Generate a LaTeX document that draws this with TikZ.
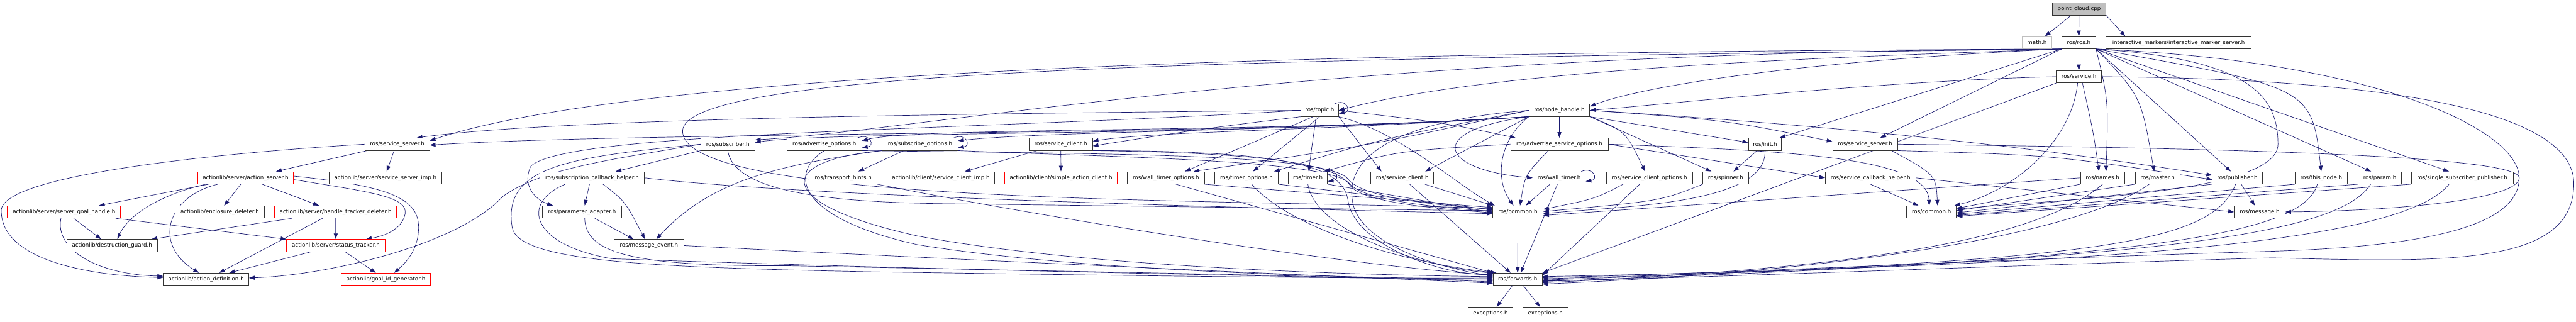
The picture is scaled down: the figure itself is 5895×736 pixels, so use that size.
\documentclass[tikz,border=0pt]{standalone}
\usepackage{fontspec}
\newfontfamily\dvs{DejaVu Sans}
\usetikzlibrary{arrows.meta,calc,backgrounds}
\definecolor{mnb}{RGB}{25,25,112}
\begin{document}
\begin{tikzpicture}[x=1pt,y=-1pt,
  box/.style={draw=black!80,line width=1.3pt,fill=white,minimum height=28pt,inner sep=0pt,font=\dvs\fontsize{12.5}{15}\selectfont},
  rbox/.style={box,draw=red},
  gbox/.style={box,draw=black!25},
  pbox/.style={box,fill=black!25},
  edge/.style={draw=mnb,line width=1pt,-{Triangle[length=13pt,width=9pt]}}]
\useasboundingbox (0,0) rectangle (5895,736);
\begin{scope}[on background layer]
\fill[white] (0,0) rectangle (5895,736);
\end{scope}
% rows 0-3
\node[pbox,minimum width=122pt] (pc) at (4758,20.5) {point\_cloud.cpp};
\node[gbox,minimum width=67pt] (math) at (4661.5,97.5) {math.h};
\node[box,minimum width=78pt] (ros) at (4757,97.5) {ros/ros.h};
\node[box,minimum width=333pt] (ims) at (4985.5,97.5) {interactive\_markers/interactive\_marker\_server.h};
\node[box,minimum width=103pt] (srv) at (4757.5,175.5) {ros/service.h};
\node[box,minimum width=86pt] (topic) at (3020,252.5) {ros/topic.h};
\node[box,minimum width=139pt] (nh) at (3568.5,252.5) {ros/node\_handle.h};
% row 4
\node[box,minimum width=148pt] (ssL) at (909,330) {ros/service\_server.h};
\node[box,minimum width=123pt] (sub) at (1665.5,330) {ros/subscriber.h};
\node[box,minimum width=171pt] (advo) at (1886.5,330) {ros/advertise\_options.h};
\node[box,minimum width=173pt] (subo) at (2105.5,330) {ros/subscribe\_options.h};
\node[box,minimum width=145pt] (scL) at (2427.5,330) {ros/service\_client.h};
\node[box,minimum width=223pt] (adso) at (3568.5,330) {ros/advertise\_service\_options.h};
\node[box,minimum width=76pt] (init) at (4039,330) {ros/init.h};
\node[box,minimum width=148pt] (ssR) at (4268,330) {ros/service\_server.h};
% row 5
\node[rbox,minimum width=220pt] (asv) at (562,407) {actionlib/server/action\_server.h};
\node[box,minimum width=258pt] (ssimp) at (882,407) {actionlib/server/service\_server\_imp.h};
\node[box,minimum width=240pt] (sch) at (1355,407) {ros/subscription\_callback\_helper.h};
\node[box,minimum width=155pt] (th) at (1929.5,407) {ros/transport\_hints.h};
\node[box,minimum width=246pt] (scimp) at (2153,407) {actionlib/client/service\_client\_imp.h};
\node[rbox,minimum width=258pt] (sac) at (2428,407) {actionlib/client/simple\_action\_client.h};
\node[box,minimum width=176pt] (wto) at (2668,407) {ros/wall\_timer\_options.h};
\node[box,minimum width=145pt] (tmo) at (2852.5,407) {ros/timer\_options.h};
\node[box,minimum width=90pt] (timer) at (2993,407) {ros/timer.h};
\node[box,minimum width=144pt] (scR) at (3209,407) {ros/service\_client.h};
\node[box,minimum width=120pt] (wt) at (3568,407) {ros/wall\_timer.h};
\node[box,minimum width=197pt] (sco) at (3774.5,407) {ros/service\_client\_options.h};
\node[box,minimum width=104pt] (spin) at (3949,407) {ros/spinner.h};
\node[box,minimum width=207pt] (sch2) at (4280.5,407) {ros/service\_callback\_helper.h};
\node[box,minimum width=101pt] (names) at (4811.5,407) {ros/names.h};
\node[box,minimum width=103pt] (master) at (4937.5,407) {ros/master.h};
\node[box,minimum width=114pt] (pub) at (5120,407) {ros/publisher.h};
\node[box,minimum width=120pt] (thisn) at (5312,407) {ros/this\_node.h};
\node[box,minimum width=100pt] (param) at (5446,407) {ros/param.h};
\node[box,minimum width=233pt] (ssp) at (5634.5,407) {ros/single\_subscriber\_publisher.h};
% row 6
\node[rbox,minimum width=259pt] (sgh) at (146.5,485) {actionlib/server/server\_goal\_handle.h};
\node[box,minimum width=204pt] (encl) at (503,485) {actionlib/enclosure\_deleter.h};
\node[rbox,minimum width=280pt] (htd) at (768,485) {actionlib/server/handle\_tracker\_deleter.h};
\node[box,minimum width=182pt] (pa) at (1332,485) {ros/parameter\_adapter.h};
\node[box,minimum width=115pt] (cmnL) at (3473.5,485) {ros/common.h};
\node[box,minimum width=114pt] (cmnR) at (4420,485) {ros/common.h};
\node[box,minimum width=116pt] (msg) at (5171,485) {ros/message.h};
% row 7
\node[box,minimum width=207pt] (dg) at (256.5,562) {actionlib/destruction\_guard.h};
\node[rbox,minimum width=225pt] (st) at (768.5,562) {actionlib/server/status\_tracker.h};
\node[box,minimum width=160pt] (me) at (1485,562) {ros/message\_event.h};
% row 8
\node[box,minimum width=195pt] (ad) at (471.5,639) {actionlib/action\_definition.h};
\node[rbox,minimum width=204pt] (gig) at (883,639) {actionlib/goal\_id\_generator.h};
\node[box,minimum width=112pt] (fwd) at (3473,639) {ros/forwards.h};
% row 9
\node[box,minimum width=102pt] (exc1) at (3411,717) {exceptions.h};
\node[box,minimum width=103pt] (exc2) at (3536.5,717) {exceptions.h};

\begin{scope}[on background layer]
% top
\draw[edge] (pc) -- (math);
\draw[edge] (pc) -- (ros);
\draw[edge] (pc.south east) -- ($(ims.north west)+(45,0)$);
\draw[edge] (ros) -- (srv);
% ros
\draw[edge] (ros.south west) .. controls (4300,128) and (3450,150) .. (topic.east);
\draw[edge] (ros.south west) .. controls (4100,140) and (3750,200) .. ($(nh.east)+(0,-9)$);
\draw[edge] (ros.south west) .. controls (3000,118) and (2100,300) .. ($(sub.east)+(0,-10)$);
\draw[edge] (ros.south west) .. controls (3200,118) and (1500,150) .. ($(ssL.east)+(0,-8)$);
\draw[edge] (ros.south west) -- ($(init.north east)+(-5,0)$);
\draw[edge] (ros.south west) -- ($(ssR.north)+(35,0)$);
\draw[edge] (ros.south east) .. controls (4825,230) .. ($(names.north)+(8,0)$);
\draw[edge] (ros.south east) .. controls (4900,220) .. ($(master.north)+(-8,0)$);
\draw[edge] (ros.south east) -- ($(pub.north)+(-15,0)$);
\draw[edge] (ros.south east) .. controls (5290,200) .. (thisn.north);
\draw[edge] (ros.south east) -- ($(param.north)+(-20,0)$);
\draw[edge] (ros.south east) -- ($(ssp.north)+(-30,0)$);
\draw[edge] (ros.south east) .. controls (5150,135) and (5213,220) .. (5213,330) .. controls (5213,445) and (4700,455) .. ($(cmnR.east)+(0,-6)$);
\draw[edge] (ros.south east) .. controls (5450,140) and (5765,300) .. (5765,407) .. controls (5765,530) and (5500,565) .. (5200,575) .. controls (4600,592) and (3900,628) .. ($(fwd.east)+(0,-4)$);
\draw[edge] (ros.south west) .. controls (3000,135) and (1562,150) .. (1562,300) .. controls (1562,470) and (2800,455) .. ($(cmnL.west)+(0,-8)$);
% srv
\draw[edge] (srv.west) .. controls (4300,185) and (3800,240) .. (nh.east);
\draw[edge] (srv.south west) -- (fwd.north east);
\draw[edge] ($(srv.south)+(-3,0)$) .. controls (4740,330) and (4600,440) .. ($(cmnR.north east)+(-5,0)$);
\draw[edge] ($(srv.south)+(8,0)$) .. controls (4790,300) .. ($(names.north)+(-8,0)$);
\draw[edge] (srv.east) .. controls (5400,180) and (5890,240) .. (5890,420) .. controls (5890,610) and (5600,600) .. (5200,590) .. controls (4600,607) and (3900,636) .. ($(fwd.east)+(0,4)$);
% nh
\draw[edge] (nh) -- (adso);
\draw[edge] (nh.south east) -- ($(init.west)+(0,-4)$);
\draw[edge] (nh.east) .. controls (3950,275) .. ($(ssR.west)+(0,-6)$);
\draw[edge] (nh.south east) .. controls (3720,300) .. ($(sco.north)+(-10,0)$);
\draw[edge] (nh.south east) -- ($(spin.north west)+(20,0)$);
\draw[edge] (nh.south west) .. controls (3250,300) and (3300,390) .. (wt.west);
\draw[edge] (nh.south west) -- ($(scR.north east)+(-20,0)$);
\draw[edge] (nh.west) .. controls (3150,330) .. ($(wto.north east)+(-25,0)$);
\draw[edge] (nh.west) .. controls (3150,320) .. ($(tmo.north east)+(-10,0)$);
\draw[edge] (nh.south west) .. controls (3430,320) and (3420,410) .. ($(cmnL.north)+(-10,0)$);
\draw[edge] (nh.west) .. controls (3150,280) and (3080,380) .. (3095,460) .. controls (3110,560) and (3300,615) .. ($(fwd.west)+(0,-8)$);
\draw[edge] (nh.south west) .. controls (3000,300) and (2650,300) .. ($(scL.east)+(0,-7)$);
\draw[edge] (nh.south west) .. controls (2900,302) and (2400,300) .. ($(subo.east)+(0,-8)$);
\draw[edge] (nh.south west) .. controls (2900,305) and (2100,290) .. ($(advo.east)+(0,-8)$);
\draw[edge] (nh.south west) .. controls (2800,312) and (1900,300) .. ($(sub.east)+(0,-4)$);
\draw[edge] (nh.south west) .. controls (2800,312) and (1500,300) .. ($(ssL.east)+(0,2)$);
\draw[edge] (nh.east) .. controls (4400,300) and (4800,360) .. ($(pub.west)+(0,-6)$);
% topic
\draw[edge] ($(topic.north east)+(-10,0)$) .. controls +(28,-14) and +(30,-4) .. ($(topic.east)+(0,7)$);
\draw[edge] (topic.west) .. controls (2300,260) and (1300,268) .. ($(ssL.north east)+(-30,0)$);
\draw[edge] (topic.south west) .. controls (2750,295) .. ($(scL.east)+(0,4)$);
\draw[edge] (topic.south) -- ($(tmo.north)+(15,0)$);
\draw[edge] ($(topic.south)+(-15,0)$) -- ($(wto.north east)+(-45,0)$);
\draw[edge] ($(topic.south)+(-8,0)$) .. controls (3000,350) .. ($(timer.north)+(2,0)$);
\draw[edge] (topic.south east) -- ($(scR.north west)+(25,0)$);
\draw[edge] (topic.south east) .. controls (3200,300) and (3330,420) .. ($(cmnL.north west)+(5,0)$);
\draw[edge] (topic.east) .. controls (3300,280) .. ($(adso.north west)+(12,0)$);
\draw[edge] (topic.west) .. controls (2200,300) and (1300,300) .. (1215,380) .. controls (1195,420) and (1220,455) .. ($(pa.north west)+(25,0)$);
% ssL
\draw[edge] ($(ssL.south west)+(6,0)$) -- ($(asv.north east)+(-41,0)$);
\draw[edge] ($(ssL.south)+(-7,0)$) -- ($(ssimp.north)+(3,0)$);
\draw[edge] (ssL.west) .. controls (500,350) and (10,400) .. (3,480) .. controls (0,600) and (220,632) .. ($(ad.west)+(0,-4)$);
% action server
\draw[edge] ($(asv.south west)+(26,0)$) -- ($(sgh.north east)+(-50,0)$);
\draw[edge] ($(asv.south west)+(19,0)$) .. controls (350,450) and (290,500) .. ($(dg.north)+(12,0)$);
\draw[edge] ($(asv.south west)+(47,0)$) .. controls (380,450) and (350,560) .. ($(ad.north)+(-16,0)$);
\draw[edge] ($(asv.south)+(-11,0)$) -- ($(encl.north)+(10,0)$);
\draw[edge] ($(asv.south)+(38,0)$) -- ($(htd.north)+(-38,0)$);
\draw[edge] ($(asv.east)+(0,4)$) .. controls (850,440) and (935,450) .. (927,490) .. controls (920,525) and (880,540) .. ($(st.north east)+(-44,0)$);
\draw[edge] ($(asv.east)+(0,-4)$) .. controls (880,425) and (958,450) .. (958,520) .. controls (958,570) and (930,600) .. ($(gig.north)+(19,0)$);
% sgh
\draw[edge] ($(sgh.south)+(22,0)$) -- ($(dg.north)+(-25,0)$);
\draw[edge] ($(sgh.south)+(-7,0)$) .. controls (125,570) and (220,628) .. ($(ad.west)+(0,-7)$);
\draw[edge] ($(sgh.south east)+(-12,0)$) -- (st.north west);
% htd
\draw[edge] (htd) -- (st);
\draw[edge] ($(htd.south west)+(41,0)$) -- ($(dg.north east)+(-14,0)$);
\draw[edge] ($(htd.south)+(-30,0)$) -- ($(ad.north)+(30,0)$);
% st
\draw[edge] ($(st.south west)+(55,0)$) -- ($(ad.north east)+(-45,0)$);
\draw[edge] ($(st.south)+(22,0)$) -- ($(gig.north)+(-23,0)$);
% sub
\draw[edge] (sub.south west) -- ($(sch.north)+(54,0)$);
\draw[edge] (sub.west) .. controls (1400,365) and (1240,385) .. (1150,450) .. controls (1050,560) and (750,630) .. ($(ad.east)+(0,-3)$);
\draw[edge] (sub.south) .. controls (1680,440) and (1900,462) .. (2150,466) .. controls (2800,474) and (3200,480) .. ($(cmnL.west)+(0,-3)$);
\draw[edge] (sub.west) .. controls (1300,360) and (1150,380) .. (1172,520) .. controls (1185,600) and (1500,612) .. (2000,622) .. controls (2700,633) and (3200,638) .. ($(fwd.west)+(0,-3)$);
% advo
\draw[edge] ($(advo.north east)+(-10,0)$) .. controls +(30,-12) and +(30,-4) .. ($(advo.east)+(0,8)$);
\draw[edge] (advo.south east) .. controls (2500,352) and (3040,350) .. (3085,410) .. controls (3120,455) and (3300,470) .. ($(cmnL.west)+(0,-6)$);
\draw[edge] (advo.south) .. controls (1800,400) and (1830,500) .. (2100,560) .. controls (2500,625) and (3150,636) .. (fwd.west);
% subo
\draw[edge] ($(subo.north east)+(-10,0)$) .. controls +(30,-12) and +(30,-4) .. ($(subo.east)+(0,8)$);
\draw[edge] ($(subo.south)+(-37,0)$) -- ($(th.north)+(35,0)$);
\draw[edge] (subo.south west) .. controls (1760,380) and (1620,420) .. ($(me.north)+(17,0)$);
\draw[edge] (subo.south west) .. controls (1760,370) and (1780,470) .. (2100,540) .. controls (2500,615) and (3150,630) .. ($(fwd.west)+(0,-6)$);
\draw[edge] (subo.south east) .. controls (2550,360) and (3040,365) .. (3088,420) .. controls (3120,460) and (3300,475) .. ($(cmnL.west)+(0,-1)$);
% scL
\draw[edge] ($(scL.south west)+(19,0)$) -- ($(scimp.north)+(55,0)$);
\draw[edge] (scL) -- (sac);
\draw[edge] (scL.south east) .. controls (2900,350) and (3060,375) .. (3090,425) .. controls (3120,465) and (3300,478) .. ($(cmnL.west)+(0,2)$);
\draw[edge] (scL.south east) .. controls (2950,345) and (3075,380) .. (3085,460) .. controls (3100,560) and (3300,630) .. ($(fwd.west)+(0,-11)$);
% sch
\draw[edge] ($(sch.south)+(-6,0)$) -- ($(pa.north)+(6,0)$);
\draw[edge] ($(sch.south)+(25,0)$) .. controls (1430,460) .. ($(me.north)+(-9,0)$);
\draw[edge] (sch.east) .. controls (1800,445) and (2600,470) .. ($(cmnL.west)+(0,4)$);
\draw[edge] ($(sch.south west)+(59,0)$) .. controls (1190,465) and (1215,560) .. (1400,592) .. controls (2200,620) and (3000,633) .. ($(fwd.west)+(0,3)$);
% pa, me, th
\draw[edge] ($(pa.south)+(29,0)$) -- ($(me.north)+(-35,0)$);
\draw[edge] ($(pa.south)+(6,0)$) .. controls (1340,580) and (1450,610) .. (1800,608) .. controls (2500,622) and (3100,632) .. ($(fwd.west)+(0,6)$);
\draw[edge] (me.east) .. controls (2100,590) and (3000,630) .. ($(fwd.west)+(0,9)$);
\draw[edge] (th.south east) .. controls (2300,480) and (3000,600) .. ($(fwd.west)+(0,-9)$);
% timers, service client
\draw[edge] (wto.south east) -- ($(cmnL.west)+(0,-10)$);
\draw[edge] ($(wto.south)+(23,0)$) -- (fwd.north west);
\draw[edge] (tmo.south east) -- ($(cmnL.west)+(0,-5)$);
\draw[edge] ($(tmo.south)+(12,0)$) .. controls (2950,520) and (3200,600) .. ($(fwd.north west)+(8,0)$);
\draw[edge] ($(timer.north east)+(-10,0)$) .. controls +(28,-12) and +(30,-4) .. ($(timer.east)+(0,8)$);
\draw[edge] (timer.south east) -- ($(cmnL.west)+(0,1)$);
\draw[edge] (timer.south) .. controls (3010,530) and (3250,610) .. ($(fwd.west)+(0,-14)$);
\draw[edge] ($(scR.south east)+(-21,0)$) -- ($(cmnL.north west)+(1,0)$);
\draw[edge] ($(scR.south)+(17,0)$) -- ($(fwd.north)+(-16,0)$);
% adso
\draw[edge] ($(adso.south)+(-25,0)$) .. controls (3490,400) .. ($(cmnL.north)+(5,0)$);
\draw[edge] (adso.east) -- (sch2.west);
\draw[edge] (adso.east) .. controls (4100,345) and (4410,360) .. ($(cmnR.north)+(-5,0)$);
\draw[edge] (adso.west) .. controls (3200,345) .. ($(timer.north east)+(-8,0)$);
% wt, sco, spin, init
\draw[edge] ($(wt.north east)+(-10,0)$) .. controls +(28,-12) and +(30,-4) .. ($(wt.east)+(0,8)$);
\draw[edge] ($(wt.south)+(-21,0)$) -- ($(cmnL.north east)+(-40,0)$);
\draw[edge] ($(wt.south)+(-4,0)$) -- ($(fwd.north)+(7,0)$);
\draw[edge] ($(sco.south west)+(39,0)$) .. controls (3650,455) .. ($(cmnL.east)+(0,-6)$);
\draw[edge] ($(sco.south west)+(77,0)$) -- ($(fwd.east)+(0,-9)$);
\draw[edge] (spin.south west) .. controls (3800,460) .. ($(cmnL.east)+(0,-1)$);
\draw[edge] ($(init.south)+(-18,0)$) -- ($(spin.north)+(18,0)$);
\draw[edge] (init.south) .. controls (4045,470) and (3700,472) .. ($(cmnL.east)+(0,4)$);
% ssR, sch2
\draw[edge] (ssR.east) .. controls (5200,340) and (5765,360) .. (5765,407) .. controls (5765,455) and (5500,482) .. (msg.east);
\draw[edge] (ssR.south east) .. controls (4700,355) .. ($(pub.west)+(0,4)$);
\draw[edge] ($(ssR.south east)+(-14,0)$) .. controls (4430,400) .. ($(cmnR.north)+(14,0)$);
\draw[edge] (sch2.south) -- ($(cmnR.north)+(-30,0)$);
\draw[edge] (sch2.east) -- (msg.west);
% right row 5
\draw[edge] (names.south west) -- ($(cmnR.east)+(0,-8)$);
\draw[edge] (names.west) -- ($(cmnL.east)+(0,8)$);
\draw[edge] (names.south) .. controls (4650,560) and (4200,615) .. ($(fwd.east)+(0,8)$);
\draw[edge] (master.south west) -- ($(cmnR.east)+(0,-3)$);
\draw[edge] ($(master.south west)+(33,0)$) .. controls (4750,540) and (4200,622) .. ($(fwd.east)+(0,11)$);
\draw[edge] ($(pub.south)+(9,0)$) -- ($(msg.north)+(-11,0)$);
\draw[edge] (pub.south west) -- ($(cmnR.east)+(0,2)$);
\draw[edge] ($(pub.south)+(-4,0)$) .. controls (5060,560) and (4800,596) .. ($(fwd.east)+(0,2)$);
\draw[edge] (thisn.south west) -- ($(cmnR.east)+(0,5)$);
\draw[edge] ($(thisn.south)+(-9,0)$) .. controls (5270,540) and (4900,596) .. ($(fwd.east)+(0,5)$);
\draw[edge] (param.south west) -- ($(cmnR.east)+(0,8)$);
\draw[edge] ($(param.south)+(-21,0)$) .. controls (5350,540) and (4900,600) .. ($(fwd.east)+(0,-1)$);
\draw[edge] (ssp.south west) -- ($(cmnR.east)+(0,10)$);
\draw[edge] ($(ssp.south)+(-30,0)$) .. controls (5500,550) and (4900,605) .. ($(fwd.east)+(0,-6)$);
% bottom
\draw[edge] (cmnL) -- (fwd);
\draw[edge] ($(fwd.south)+(-12,0)$) -- ($(exc1.north)+(14,0)$);
\draw[edge] ($(fwd.south)+(13,0)$) -- ($(exc2.north)+(-12,0)$);
\end{scope}
\end{tikzpicture}
\end{document}
